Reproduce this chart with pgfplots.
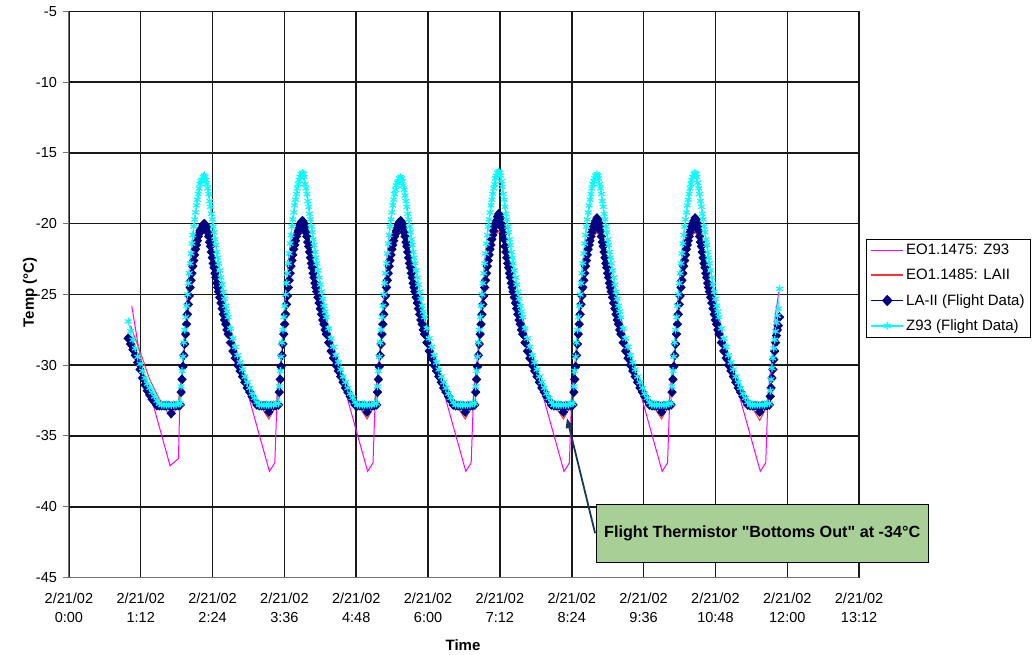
\documentclass[border=0pt]{standalone}
\usepackage{fontspec}
\setmainfont{Liberation Sans}
\usepackage{pgfplots}
\usepackage{pgfplotstable}
\pgfplotsset{compat=1.18}
\usetikzlibrary{arrows.meta}
\definecolor{zmag}{RGB}{255,0,255}
\definecolor{modelred}{RGB}{255,51,51}
\definecolor{lnavy}{RGB}{0,0,128}
\definecolor{zcyan}{RGB}{0,255,255}
\definecolor{annogreen}{RGB}{168,208,150}
\definecolor{arrowblue}{RGB}{23,55,94}

\pgfplotstableread{
t LA Z
0.99 -28.1 -26.9
1.03 -28.5 -27.6
1.07 -28.9 -28.2
1.11 -29.3 -28.8
1.15 -29.8 -29.4
1.19 -30.3 -29.9
1.23 -30.9 -30.4
1.27 -31.4 -30.9
1.31 -31.8 -31.3
1.35 -32.1 -31.6
1.39 -32.4 -31.9
1.43 -32.6 -32.2
1.47 -32.85 -32.5
1.51 -32.85 -32.7
1.55 -32.85 -32.8
1.59 -32.85 -32.8
1.63 -32.85 -32.8
1.67 -32.85 -32.8
1.71 -33.4 -32.8
1.75 -32.85 -32.8
1.79 -32.85 -32.8
1.83 -32.85 -32.7
1.860 -32.8 -32.7
1.875 -31.9 -31.5
1.890 -31.0 -30.4
1.905 -30.1 -29.4
1.920 -29.3 -28.4
1.935 -28.5 -27.5
1.950 -27.8 -26.6
1.965 -27.1 -25.8
1.980 -26.4 -25.0
1.995 -25.7 -24.2
2.010 -25.1 -23.5
2.025 -24.5 -22.8
2.040 -24.0 -22.1
2.055 -23.5 -21.4
2.070 -23.0 -20.8
2.085 -22.6 -20.2
2.100 -22.2 -19.7
2.115 -21.8 -19.2
2.130 -21.5 -18.7
2.145 -21.2 -18.3
2.160 -20.9 -17.9
2.175 -20.7 -17.5
2.190 -20.5 -17.2
2.205 -20.4 -17.0
2.220 -20.3 -16.9
2.240 -20.1 -16.7
2.260 -20.0 -16.6
2.275 -20.05 -16.7
2.290 -20.2 -16.9
2.305 -20.3 -17.2
2.320 -20.6 -17.5
2.335 -20.9 -17.9
2.350 -21.3 -18.4
2.365 -21.6 -18.8
2.380 -22.0 -19.3
2.395 -22.4 -19.7
2.410 -22.8 -20.2
2.425 -23.1 -20.6
2.440 -23.5 -21.1
2.455 -23.8 -21.5
2.470 -24.2 -22.0
2.485 -24.5 -22.4
2.500 -24.8 -22.8
2.520 -25.2 -23.3
2.540 -25.6 -23.8
2.560 -26.0 -24.3
2.580 -26.4 -24.8
2.600 -26.8 -25.3
2.620 -27.1 -25.8
2.640 -27.5 -26.2
2.660 -27.8 -26.6
2.700 -28.4 -27.4
2.740 -29.0 -28.1
2.780 -29.5 -28.7
2.820 -30.0 -29.3
2.860 -30.4 -29.8
2.900 -30.8 -30.3
2.940 -31.2 -30.8
2.980 -31.6 -31.2
3.020 -31.9 -31.6
3.060 -32.2 -32.0
3.100 -32.5 -32.3
3.140 -32.8 -32.6
3.180 -32.85 -32.8
3.220 -32.85 -32.8
3.260 -32.85 -32.8
3.300 -32.85 -32.8
3.340 -33.3 -32.8
3.380 -32.85 -32.8
3.420 -32.85 -32.8
3.460 -32.85 -32.7
3.500 -32.8 -32.7
3.515 -31.9 -31.5
3.530 -31.0 -30.4
3.545 -30.1 -29.4
3.560 -29.3 -28.4
3.575 -28.5 -27.5
3.590 -27.8 -26.6
3.605 -27.1 -25.8
3.620 -26.4 -25.0
3.635 -25.7 -24.2
3.650 -25.1 -23.5
3.665 -24.5 -22.8
3.680 -24.0 -22.1
3.695 -23.5 -21.4
3.710 -23.0 -20.8
3.725 -22.6 -20.2
3.740 -22.2 -19.7
3.755 -21.8 -19.2
3.770 -21.5 -18.7
3.785 -21.2 -18.3
3.800 -20.9 -17.9
3.815 -20.7 -17.5
3.830 -20.5 -17.2
3.845 -20.3 -16.9
3.860 -20.1 -16.7
3.880 -19.9 -16.5
3.900 -19.8 -16.4
3.915 -19.85 -16.5
3.930 -20.0 -16.7
3.945 -20.3 -17.2
3.960 -20.6 -17.5
3.975 -20.9 -17.9
3.990 -21.3 -18.4
4.005 -21.6 -18.8
4.020 -22.0 -19.3
4.035 -22.4 -19.7
4.050 -22.8 -20.2
4.065 -23.1 -20.6
4.080 -23.5 -21.1
4.095 -23.8 -21.5
4.110 -24.2 -22.0
4.125 -24.5 -22.4
4.140 -24.8 -22.8
4.160 -25.2 -23.3
4.180 -25.6 -23.8
4.200 -26.0 -24.3
4.220 -26.4 -24.8
4.240 -26.8 -25.3
4.260 -27.1 -25.8
4.280 -27.5 -26.2
4.300 -27.8 -26.6
4.340 -28.4 -27.4
4.380 -29.0 -28.1
4.420 -29.5 -28.7
4.460 -30.0 -29.3
4.500 -30.4 -29.8
4.540 -30.8 -30.3
4.580 -31.2 -30.8
4.620 -31.6 -31.2
4.660 -31.9 -31.6
4.700 -32.2 -32.0
4.740 -32.5 -32.3
4.780 -32.8 -32.6
4.820 -32.85 -32.8
4.860 -32.85 -32.8
4.900 -32.85 -32.8
4.940 -32.85 -32.8
4.980 -33.3 -32.8
5.020 -32.85 -32.8
5.060 -32.85 -32.8
5.100 -32.85 -32.7
5.140 -32.8 -32.7
5.155 -31.9 -31.5
5.170 -31.0 -30.4
5.185 -30.1 -29.4
5.200 -29.3 -28.4
5.215 -28.5 -27.5
5.230 -27.8 -26.6
5.245 -27.1 -25.8
5.260 -26.4 -25.0
5.275 -25.7 -24.2
5.290 -25.1 -23.5
5.305 -24.5 -22.8
5.320 -24.0 -22.1
5.335 -23.5 -21.4
5.350 -23.0 -20.8
5.365 -22.6 -20.2
5.380 -22.2 -19.7
5.395 -21.8 -19.2
5.410 -21.5 -18.7
5.425 -21.2 -18.3
5.440 -20.9 -17.9
5.455 -20.7 -17.6
5.470 -20.5 -17.3
5.485 -20.3 -17.1
5.500 -20.1 -17.0
5.520 -19.9 -16.8
5.540 -19.8 -16.7
5.555 -19.85 -16.8
5.570 -20.0 -17.0
5.585 -20.3 -17.3
5.600 -20.6 -17.6
5.615 -20.9 -18.0
5.630 -21.3 -18.4
5.645 -21.6 -18.8
5.660 -22.0 -19.3
5.675 -22.4 -19.7
5.690 -22.8 -20.2
5.705 -23.1 -20.6
5.720 -23.5 -21.1
5.735 -23.8 -21.5
5.750 -24.2 -22.0
5.765 -24.5 -22.4
5.780 -24.8 -22.8
5.800 -25.2 -23.3
5.820 -25.6 -23.8
5.840 -26.0 -24.3
5.860 -26.4 -24.8
5.880 -26.8 -25.3
5.900 -27.1 -25.8
5.920 -27.5 -26.2
5.940 -27.8 -26.6
5.980 -28.4 -27.4
6.020 -29.0 -28.1
6.060 -29.5 -28.7
6.100 -30.0 -29.3
6.140 -30.4 -29.8
6.180 -30.8 -30.3
6.220 -31.2 -30.8
6.260 -31.6 -31.2
6.300 -31.9 -31.6
6.340 -32.2 -32.0
6.380 -32.5 -32.3
6.420 -32.8 -32.6
6.460 -32.85 -32.8
6.500 -32.85 -32.8
6.540 -32.85 -32.8
6.580 -32.85 -32.8
6.620 -33.3 -32.8
6.660 -32.85 -32.8
6.700 -32.85 -32.8
6.740 -32.85 -32.7
6.780 -32.8 -32.7
6.795 -31.9 -31.5
6.810 -31.0 -30.4
6.825 -30.1 -29.4
6.840 -29.3 -28.4
6.855 -28.5 -27.5
6.870 -27.8 -26.6
6.885 -27.1 -25.8
6.900 -26.4 -25.0
6.915 -25.7 -24.2
6.930 -25.1 -23.5
6.945 -24.5 -22.8
6.960 -24.0 -22.1
6.975 -23.5 -21.4
6.990 -23.0 -20.8
7.005 -22.6 -20.2
7.020 -22.2 -19.7
7.035 -21.8 -19.2
7.050 -21.5 -18.7
7.065 -21.1 -18.3
7.080 -20.8 -17.9
7.095 -20.5 -17.5
7.110 -20.2 -17.2
7.125 -20.0 -16.8
7.140 -19.8 -16.6
7.160 -19.5 -16.4
7.180 -19.3 -16.3
7.195 -19.4 -16.4
7.210 -19.6 -16.6
7.225 -20.0 -17.0
7.240 -20.3 -17.4
7.255 -20.7 -17.9
7.270 -21.1 -18.3
7.285 -21.6 -18.8
7.300 -22.0 -19.3
7.315 -22.4 -19.7
7.330 -22.8 -20.2
7.345 -23.1 -20.6
7.360 -23.5 -21.1
7.375 -23.8 -21.5
7.390 -24.2 -22.0
7.405 -24.5 -22.4
7.420 -24.8 -22.8
7.440 -25.2 -23.3
7.460 -25.6 -23.8
7.480 -26.0 -24.3
7.500 -26.4 -24.8
7.520 -26.8 -25.3
7.540 -27.1 -25.8
7.560 -27.5 -26.2
7.580 -27.8 -26.6
7.620 -28.4 -27.4
7.660 -29.0 -28.1
7.700 -29.5 -28.7
7.740 -30.0 -29.3
7.780 -30.4 -29.8
7.820 -30.8 -30.3
7.860 -31.2 -30.8
7.900 -31.6 -31.2
7.940 -31.9 -31.6
7.980 -32.2 -32.0
8.020 -32.5 -32.3
8.060 -32.8 -32.6
8.100 -32.85 -32.8
8.140 -32.85 -32.8
8.180 -32.85 -32.8
8.220 -32.85 -32.8
8.260 -33.3 -32.8
8.300 -32.85 -32.8
8.340 -32.85 -32.8
8.380 -32.85 -32.7
8.420 -32.8 -32.7
8.435 -31.9 -31.5
8.450 -31.0 -30.4
8.465 -30.1 -29.4
8.480 -29.3 -28.4
8.495 -28.5 -27.5
8.510 -27.8 -26.6
8.525 -27.1 -25.8
8.540 -26.4 -25.0
8.555 -25.7 -24.2
8.570 -25.1 -23.5
8.585 -24.5 -22.8
8.600 -24.0 -22.1
8.615 -23.5 -21.4
8.630 -23.0 -20.8
8.645 -22.6 -20.2
8.660 -22.2 -19.7
8.675 -21.8 -19.2
8.690 -21.5 -18.7
8.705 -21.2 -18.3
8.720 -20.9 -17.9
8.735 -20.6 -17.5
8.750 -20.4 -17.2
8.765 -20.2 -17.0
8.780 -20.0 -16.8
8.800 -19.8 -16.6
8.820 -19.6 -16.5
8.835 -19.7 -16.6
8.850 -19.9 -16.8
8.865 -20.2 -17.2
8.880 -20.5 -17.5
8.895 -20.9 -17.9
8.910 -21.3 -18.4
8.925 -21.6 -18.8
8.940 -22.0 -19.3
8.955 -22.4 -19.7
8.970 -22.8 -20.2
8.985 -23.1 -20.6
9.000 -23.5 -21.1
9.015 -23.8 -21.5
9.030 -24.2 -22.0
9.045 -24.5 -22.4
9.060 -24.8 -22.8
9.080 -25.2 -23.3
9.100 -25.6 -23.8
9.120 -26.0 -24.3
9.140 -26.4 -24.8
9.160 -26.8 -25.3
9.180 -27.1 -25.8
9.200 -27.5 -26.2
9.220 -27.8 -26.6
9.260 -28.4 -27.4
9.300 -29.0 -28.1
9.340 -29.5 -28.7
9.380 -30.0 -29.3
9.420 -30.4 -29.8
9.460 -30.8 -30.3
9.500 -31.2 -30.8
9.540 -31.6 -31.2
9.580 -31.9 -31.6
9.620 -32.2 -32.0
9.660 -32.5 -32.3
9.700 -32.8 -32.6
9.740 -32.85 -32.8
9.780 -32.85 -32.8
9.820 -32.85 -32.8
9.860 -32.85 -32.8
9.900 -33.3 -32.8
9.940 -32.85 -32.8
9.980 -32.85 -32.8
10.020 -32.85 -32.7
10.060 -32.8 -32.7
10.075 -31.9 -31.5
10.090 -31.0 -30.4
10.105 -30.1 -29.4
10.120 -29.3 -28.4
10.135 -28.5 -27.5
10.150 -27.8 -26.6
10.165 -27.1 -25.8
10.180 -26.4 -25.0
10.195 -25.7 -24.2
10.210 -25.1 -23.5
10.225 -24.5 -22.8
10.240 -24.0 -22.1
10.255 -23.5 -21.4
10.270 -23.0 -20.8
10.285 -22.6 -20.2
10.300 -22.2 -19.7
10.315 -21.8 -19.2
10.330 -21.5 -18.7
10.345 -21.2 -18.3
10.360 -20.9 -17.9
10.375 -20.6 -17.5
10.390 -20.4 -17.2
10.405 -20.2 -16.9
10.420 -20.0 -16.7
10.440 -19.8 -16.5
10.460 -19.6 -16.4
10.475 -19.7 -16.5
10.490 -19.9 -16.7
10.505 -20.2 -17.1
10.520 -20.5 -17.5
10.535 -20.9 -17.9
10.550 -21.3 -18.4
10.565 -21.6 -18.8
10.580 -22.0 -19.3
10.595 -22.4 -19.7
10.610 -22.8 -20.2
10.625 -23.1 -20.6
10.640 -23.5 -21.1
10.655 -23.8 -21.5
10.670 -24.2 -22.0
10.685 -24.5 -22.4
10.700 -24.8 -22.8
10.720 -25.2 -23.3
10.740 -25.6 -23.8
10.760 -26.0 -24.3
10.780 -26.4 -24.8
10.800 -26.8 -25.3
10.820 -27.1 -25.8
10.840 -27.5 -26.2
10.860 -27.8 -26.6
10.900 -28.4 -27.4
10.940 -29.0 -28.1
10.980 -29.5 -28.7
11.020 -30.0 -29.3
11.060 -30.4 -29.8
11.100 -30.8 -30.3
11.140 -31.2 -30.8
11.180 -31.6 -31.2
11.220 -31.9 -31.6
11.260 -32.2 -32.0
11.300 -32.5 -32.3
11.340 -32.8 -32.6
11.380 -32.85 -32.8
11.420 -32.85 -32.8
11.460 -32.85 -32.8
11.500 -32.85 -32.8
11.540 -33.3 -32.8
11.580 -32.85 -32.8
11.620 -32.85 -32.8
11.660 -32.85 -32.7
11.700 -32.8 -32.7
11.715 -32.2 -31.8
11.730 -31.6 -31.0
11.745 -30.9 -30.2
11.760 -30.3 -29.5
11.775 -29.6 -28.8
11.790 -29.0 -28.2
11.805 -28.4 -27.6
11.820 -27.9 -27.0
11.835 -27.5 -26.5
11.850 -27.2 -26.0
11.870 -26.6 -24.6
}\flight

\begin{document}
\begin{tikzpicture}
\begin{axis}[
  at={(0,0)}, anchor=south west,
  scale only axis, width=790.2bp, height=566bp,
  xmin=0, xmax=13.2, ymin=-45, ymax=-5,
  xtick={0,1.2,2.4,3.6,4.8,6,7.2,8.4,9.6,10.8,12,13.2},
  xticklabels={{2/21/02\\[2bp]0:00},{2/21/02\\[2bp]1:12},{2/21/02\\[2bp]2:24},{2/21/02\\[2bp]3:36},{2/21/02\\[2bp]4:48},{2/21/02\\[2bp]6:00},{2/21/02\\[2bp]7:12},{2/21/02\\[2bp]8:24},{2/21/02\\[2bp]9:36},{2/21/02\\[2bp]10:48},{2/21/02\\[2bp]12:00},{2/21/02\\[2bp]13:12}},
  ytick={-45,-40,-35,-30,-25,-20,-15,-10,-5},
  yticklabels={-45,-40,-35,-30,-25,-20,-15,-10,-5},
  axis x line*=bottom, axis y line*=left,
  axis line style={black!55, line width=1bp},
  grid=major, major grid style={black!90, line width=1.5bp},
  tick align=outside, major tick length=5.5bp,
  ytick style={black!55, line width=1bp},
  xtick style={draw=none},
  tick label style={font=\fontsize{14.5bp}{17.5bp}\selectfont},
  x tick label style={align=center, yshift=-6bp},
  y tick label style={xshift=-3bp},
  xlabel={Time}, ylabel={Temp (°C)},
  every axis x label/.style={at={(axis description cs:0.4987,-0.1193)}, anchor=center, font=\bfseries\fontsize{15bp}{18bp}\selectfont},
  every axis y label/.style={at={(axis description cs:-0.0492,0.504)}, rotate=90, anchor=center, font=\bfseries\fontsize{15bp}{18bp}\selectfont},
  legend style={at={(1.0087,0.598)}, anchor=north west, draw=black, line width=0.8bp,
    font=\fontsize{15bp}{18bp}\selectfont, cells={anchor=west}, inner xsep=4bp, inner ysep=3bp, row sep=9bp},
  legend image code/.code={\draw[mark repeat=2,mark phase=2,#1,line width=1.8bp] plot coordinates {(0bp,0bp) (16bp,0bp) (32bp,0bp)};},
  clip=false,
]
\addplot[zmag, line width=1bp, mark=none] coordinates {
(1.05,-25.8) (1.15,-28.4) (1.25,-30.6) (1.33,-31.6) (1.69,-37.1) (1.83,-36.6) (1.855,-32.2)
(1.90,-29.6) (1.96,-26.0) (2.02,-22.9) (2.08,-20.4) (2.14,-18.5) (2.20,-17.1) (2.26,-16.4) (2.32,-17.4) (2.38,-19.2) (2.46,-21.6) (2.56,-24.3) (2.66,-26.6) (2.76,-28.4) (2.89,-30.5) (3.35,-37.5) (3.44,-36.9) (3.48,-32.0)
(3.54,-29.6) (3.60,-26.0) (3.66,-22.9) (3.72,-20.4) (3.78,-18.5) (3.84,-17.1) (3.90,-16.4) (3.96,-17.4) (4.02,-19.2) (4.10,-21.6) (4.20,-24.3) (4.30,-26.6) (4.40,-28.4) (4.53,-30.5) (4.99,-37.5) (5.08,-36.9) (5.12,-32.0)
(5.18,-29.6) (5.24,-26.0) (5.30,-22.9) (5.36,-20.4) (5.42,-18.5) (5.48,-17.1) (5.54,-16.6) (5.60,-17.4) (5.66,-19.2) (5.74,-21.6) (5.84,-24.3) (5.94,-26.6) (6.04,-28.4) (6.17,-30.5) (6.63,-37.5) (6.72,-36.9) (6.76,-32.0)
(6.82,-29.6) (6.88,-26.0) (6.94,-22.9) (7.00,-20.4) (7.06,-18.5) (7.12,-17.1) (7.18,-16.3) (7.24,-17.4) (7.30,-19.2) (7.38,-21.6) (7.48,-24.3) (7.58,-26.6) (7.68,-28.4) (7.81,-30.5) (8.27,-37.5) (8.36,-36.9) (8.40,-32.0)
(8.46,-29.6) (8.52,-26.0) (8.58,-22.9) (8.64,-20.4) (8.70,-18.5) (8.76,-17.1) (8.82,-16.5) (8.88,-17.4) (8.94,-19.2) (9.02,-21.6) (9.12,-24.3) (9.22,-26.6) (9.32,-28.4) (9.45,-30.5) (9.91,-37.5) (10.00,-36.9) (10.04,-32.0)
(10.10,-29.6) (10.16,-26.0) (10.22,-22.9) (10.28,-20.4) (10.34,-18.5) (10.40,-17.1) (10.46,-16.4) (10.52,-17.4) (10.58,-19.2) (10.66,-21.6) (10.76,-24.3) (10.86,-26.6) (10.96,-28.4) (11.09,-30.5) (11.55,-37.5) (11.64,-36.9) (11.68,-32.0)
(11.74,-29.6) (11.80,-26.5) (11.86,-24.8)
};
\addlegendentry{EO1.1475: Z93}
\addplot[modelred, line width=1bp, mark=none] coordinates {
(1.03,-27.2) (1.22,-29.4) (1.35,-31.0) (1.50,-32.3) (1.70,-33.7) (1.82,-32.9)
(1.90,-30.0) (1.96,-27.2) (2.02,-24.9) (2.08,-23.0) (2.14,-21.6) (2.20,-20.9) (2.26,-20.6) (2.32,-21.0) (2.38,-22.2) (2.46,-24.0) (2.56,-26.2) (2.66,-27.9) (2.76,-29.3) (2.86,-30.4) (2.96,-31.4) (3.06,-32.1) (3.16,-32.6) (3.34,-33.8) (3.46,-32.9)
(3.54,-30.0) (3.60,-27.2) (3.66,-24.9) (3.72,-23.0) (3.78,-21.6) (3.84,-20.9) (3.90,-20.6) (3.96,-21.0) (4.02,-22.2) (4.10,-24.0) (4.20,-26.2) (4.30,-27.9) (4.40,-29.3) (4.50,-30.4) (4.60,-31.4) (4.70,-32.1) (4.80,-32.6) (4.98,-33.8) (5.10,-32.9)
(5.18,-30.0) (5.24,-27.2) (5.30,-24.9) (5.36,-23.0) (5.42,-21.6) (5.48,-20.9) (5.54,-20.6) (5.60,-21.0) (5.66,-22.2) (5.74,-24.0) (5.84,-26.2) (5.94,-27.9) (6.04,-29.3) (6.14,-30.4) (6.24,-31.4) (6.34,-32.1) (6.44,-32.6) (6.62,-33.8) (6.74,-32.9)
(6.82,-30.0) (6.88,-27.2) (6.94,-24.9) (7.00,-23.0) (7.06,-21.6) (7.12,-20.9) (7.18,-20.5) (7.24,-21.0) (7.30,-22.2) (7.38,-24.0) (7.48,-26.2) (7.58,-27.9) (7.68,-29.3) (7.78,-30.4) (7.88,-31.4) (7.98,-32.1) (8.08,-32.6) (8.26,-33.8) (8.38,-32.9)
(8.46,-30.0) (8.52,-27.2) (8.58,-24.9) (8.64,-23.0) (8.70,-21.6) (8.76,-20.9) (8.82,-20.6) (8.88,-21.0) (8.94,-22.2) (9.02,-24.0) (9.12,-26.2) (9.22,-27.9) (9.32,-29.3) (9.42,-30.4) (9.52,-31.4) (9.62,-32.1) (9.72,-32.6) (9.90,-33.8) (10.02,-32.9)
(10.10,-30.0) (10.16,-27.2) (10.22,-24.9) (10.28,-23.0) (10.34,-21.6) (10.40,-20.9) (10.46,-20.6) (10.52,-21.0) (10.58,-22.2) (10.66,-24.0) (10.76,-26.2) (10.86,-27.9) (10.96,-29.3) (11.06,-30.4) (11.16,-31.4) (11.26,-32.1) (11.36,-32.6) (11.54,-33.9) (11.66,-32.9)
(11.74,-30.6) (11.80,-28.3) (11.86,-26.6)
};
\addlegendentry{EO1.1485: LAII}
\addplot[lnavy, line width=0.8bp, mark=diamond*, mark size=4.4bp, mark options={solid, fill=lnavy, draw=lnavy, xscale=1.25}] table[x=t,y=LA]{\flight};
\addlegendentry{LA-II (Flight Data)}
\addplot[zcyan, line width=0.8bp, mark=asterisk, mark size=3.8bp, mark options={solid, line width=1.2bp}] table[x=t,y=Z]{\flight};
\addlegendentry{Z93 (Flight Data)}
\draw[arrowblue, line width=1.8bp, -{Triangle[length=10bp,width=7bp]}] (axis cs:8.79,-41.87) -- (axis cs:8.32,-33.73);
\node[draw=black, line width=0.8bp, fill=annogreen, anchor=west, minimum height=58.5bp, inner xsep=8bp,
  font=\bfseries\fontsize{16.2bp}{19bp}\selectfont] at (axis cs:8.80,-41.89) {Flight Thermistor \textquotedbl Bottoms Out\textquotedbl{} at -34°C};
\end{axis}
\pgfresetboundingbox
\path[use as bounding box] (-68.9bp,-77.5bp) rectangle (965.1bp,577.5bp);
\end{tikzpicture}
\end{document}
